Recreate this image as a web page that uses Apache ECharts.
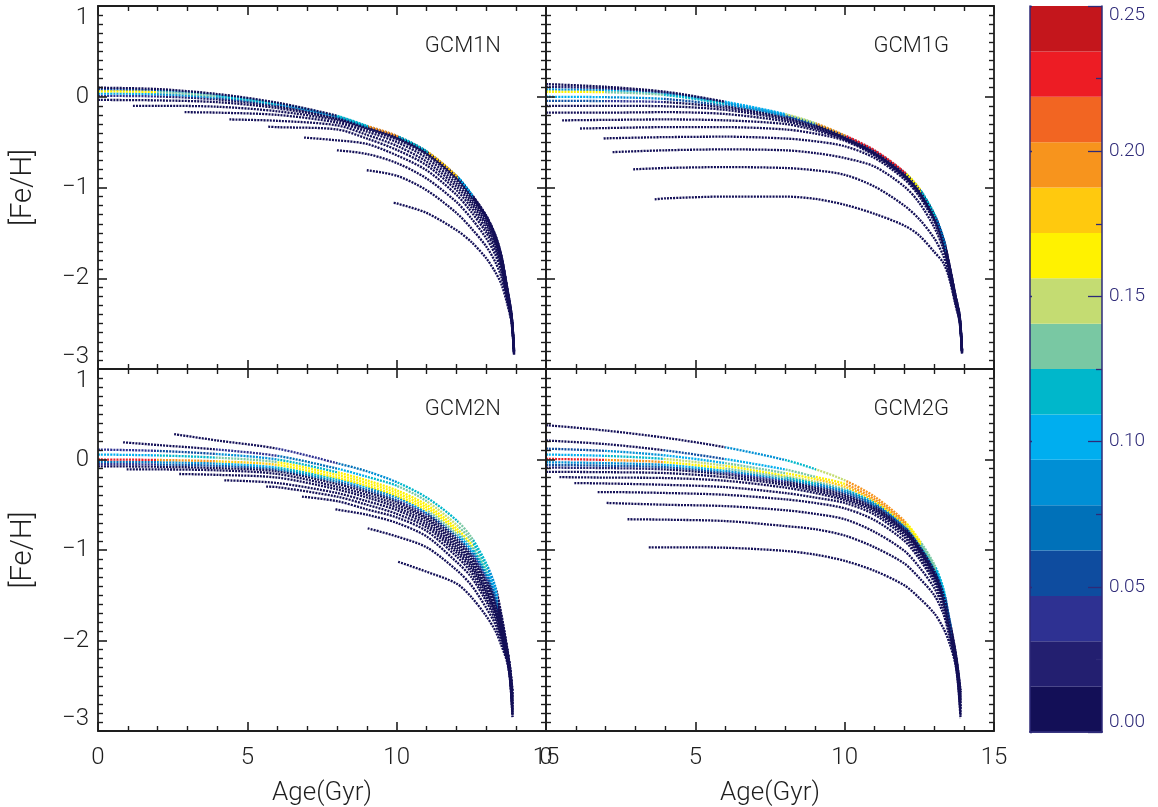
<!DOCTYPE html>
<html><head><meta charset="utf-8">
<script src="https://cdn.jsdelivr.net/npm/echarts@6/dist/echarts.min.js"></script>
<style>html,body{margin:0;padding:0;background:#fff}#c{width:1158px;height:807px}</style>
</head><body><div id="c"></div>
<script>
// ---------------- data ----------------
const PANEL_NAMES = ['GCM1N', 'GCM1G', 'GCM2N', 'GCM2G'];
const X_NAME = 'Age(Gyr)';
const Y_NAME = '[Fe/H]';
const X_MIN = 0, X_MAX = 15, X_STEP = 5;
const Y_MIN = -3, Y_MAX = 1, Y_STEP = 1;
const CB_MIN = 0, CB_MAX = 0.25, CB_STEP = 0.05;
const BAND_COLORS = ['#130F57','#231F70','#2E3192','#0E4C9F','#0071B9','#008FD5','#00AEEF','#00B7CB',
                     '#79C8A3','#C4DC72','#FFF200','#FFC90E','#F7941D','#F26522','#ED1C24','#C4161C'];

// sample ages of each track after its start point
const AGES_1 = [2,4,6,8,9,10,11,12,12.5,13,13.3,13.5,13.7,13.85,13.93];
const AGES_2 = [2,4,6,8,9,10,11,12,12.5,13,13.3,13.5,13.7,13.8,13.88];

// track: [startAge, startFeH, [FeH at following ages], [colour value per point]]
const GCM1N = [
  [0, .10, [.085,.03,-.065,-.21,-.32,-.43,-.6,-.87,-1.07,-1.31,-1.52,-1.74,-2.1,-2.41,-2.79], [0,0,0,0,.12,.2,.11,.18,.1,0]],
  [0, .08, [.068,.018,-.073,-.215,-.324,-.434,-.604,-.874,-1.075,-1.315,-1.525,-1.745,-2.105,-2.415,-2.79], [.05,.07,.09,.1,.08,.06]],
  [0, .06, [.05,.005,-.082,-.22,-.328,-.438,-.608,-.878,-1.08,-1.32,-1.53,-1.75,-2.11,-2.42,-2.795], [.16,.13,.11,.09,.07]],
  [0, .035, [.028,-.012,-.093,-.228,-.333,-.443,-.613,-.883,-1.085,-1.325,-1.535,-1.755,-2.115,-2.42,-2.8], [.1,.08,.06]],
  [0, .01, [.003,-.03,-.105,-.236,-.339,-.448,-.618,-.888,-1.09,-1.33,-1.54,-1.76,-2.12,-2.425,-2.8], [.04,.03]],
  [0, -.035, [-.04,-.06,-.125,-.245,-.345,-.455,-.625,-.895,-1.1,-1.34,-1.55,-1.77,-2.13,-2.43,-2.805]],
  [1.17, -.10, [-.1,-.11,-.16,-.26,-.36,-.47,-.64,-.92,-1.12,-1.36,-1.57,-1.78,-2.14,-2.44,-2.81]],
  [2.9, -.17, [-.175,-.2,-.285,-.385,-.5,-.675,-.955,-1.15,-1.39,-1.59,-1.8,-2.15,-2.44,-2.81]],
  [4.4, -.25, [-.265,-.315,-.42,-.54,-.715,-.99,-1.18,-1.42,-1.62,-1.82,-2.17,-2.45,-2.82]],
  [5.7, -.33, [-.335,-.36,-.46,-.585,-.755,-1.03,-1.22,-1.46,-1.65,-1.85,-2.18,-2.46,-2.82]],
  [6.9, -.45, [-.48,-.52,-.645,-.81,-1.08,-1.27,-1.5,-1.69,-1.88,-2.2,-2.47,-2.83]],
  [8.0, -.59, [-.63,-.73,-.9,-1.16,-1.34,-1.56,-1.74,-1.92,-2.22,-2.48,-2.83]],
  [9.0, -.81, [-.87,-1.03,-1.28,-1.45,-1.65,-1.82,-1.98,-2.25,-2.49,-2.84]],
  [9.9, -1.17, [-1.175,-1.28,-1.47,-1.6,-1.78,-1.93,-2.06,-2.28,-2.5,-2.84]]
];
const GCM1G = [
  [0, .14, [.11,.055,-.055,-.19,-.29,-.425,-.59,-.83,-1.01,-1.29,-1.55,-1.84,-2.17,-2.41,-2.79], [0,0,0,.1,.15,.19,.22,.23,.17,.11,.07,0]],
  [0, .11, [.093,.045,-.062,-.196,-.295,-.43,-.595,-.835,-1.017,-1.297,-1.557,-1.845,-2.175,-2.415,-2.79], [.03,.03,.06,.08,.1,.12,.1,.08,.05,0]],
  [0, .08, [.072,.032,-.07,-.203,-.3,-.435,-.6,-.84,-1.024,-1.304,-1.564,-1.85,-2.18,-2.42,-2.795], [.08,.1,.09,.07,.05]],
  [0, .055, [.05,.018,-.08,-.21,-.306,-.44,-.605,-.845,-1.03,-1.31,-1.57,-1.855,-2.185,-2.425,-2.8], [.17,.14,.11,.08,.06]],
  [0, 0, [-.005,-.025,-.1,-.222,-.315,-.445,-.61,-.85,-1.037,-1.317,-1.577,-1.86,-2.19,-2.43,-2.8], [.1,.08,.06]],
  [0, -.045, [-.048,-.06,-.12,-.235,-.325,-.45,-.615,-.857,-1.044,-1.324,-1.584,-1.865,-2.195,-2.435,-2.805], [.05,.04]],
  [0, -.10, [-.1,-.105,-.145,-.25,-.337,-.457,-.621,-.864,-1.051,-1.331,-1.591,-1.87,-2.2,-2.44,-2.805]],
  [0, -.175, [-.175,-.17,-.19,-.27,-.35,-.464,-.628,-.871,-1.058,-1.338,-1.598,-1.875,-2.205,-2.445,-2.81]],
  [0.54, -.26, [-.255,-.25,-.26,-.3,-.37,-.472,-.636,-.879,-1.066,-1.346,-1.606,-1.88,-2.21,-2.45,-2.81]],
  [1.14, -.35, [-.345,-.335,-.335,-.36,-.405,-.485,-.648,-.889,-1.076,-1.356,-1.616,-1.887,-2.215,-2.455,-2.815]],
  [1.93, -.46, [-.458,-.445,-.44,-.46,-.49,-.545,-.675,-.91,-1.1,-1.38,-1.635,-1.9,-2.225,-2.46,-2.82]],
  [2.23, -.61, [-.59,-.58,-.59,-.62,-.675,-.77,-.99,-1.17,-1.44,-1.675,-1.93,-2.24,-2.47,-2.825]],
  [2.92, -.80, [-.785,-.775,-.785,-.81,-.86,-.99,-1.2,-1.35,-1.56,-1.75,-1.97,-2.26,-2.48,-2.83]],
  [3.64, -1.13, [-1.12,-1.1,-1.1,-1.125,-1.19,-1.29,-1.42,-1.53,-1.71,-1.83,-2.0,-2.28,-2.49,-2.83]]
];
const GCM2N = [
  [2.55, .28, [.21,.12,-.04,-.13,-.25,-.42,-.67,-.86,-1.15,-1.4,-1.7,-2.08,-2.3,-2.55], [0,0,.04,.07,.09,.11,.12,.13,.11,.08,0]],
  [0.84, .19, [.16,.11,.04,-.1,-.19,-.29,-.46,-.72,-.9,-1.19,-1.43,-1.72,-2.09,-2.31,-2.58], [0,0,.04,.07,.1,.12,.14,.15,.14,.12,.09,0]],
  [0, .11, [.095,.06,0,-.14,-.23,-.34,-.5,-.76,-.94,-1.22,-1.46,-1.74,-2.1,-2.32,-2.6], [.04,.06,.08,.12,.16,.17,.17,.17,.16,.13,.1,0]],
  [0, .055, [.045,.02,-.03,-.17,-.26,-.37,-.53,-.79,-.97,-1.25,-1.49,-1.76,-2.11,-2.33,-2.62], [.1,.11,.13,.16,.17,.17,.17,.16,.14,.11,.08,0]],
  [0, 0, [-.005,-.02,-.06,-.2,-.29,-.4,-.56,-.82,-1.0,-1.28,-1.52,-1.78,-2.12,-2.34,-2.64], [.22,.2,.18,.17,.17,.17,.16,.13,.1,.07,.05,0]],
  [0, -.025, [-.03,-.045,-.09,-.22,-.31,-.42,-.59,-.85,-1.03,-1.31,-1.55,-1.8,-2.13,-2.35,-2.66], [.07,.08,.1,.11,.1,.09,.08,.06,.05,.04,0]],
  [0, -.05, [-.055,-.07,-.11,-.245,-.335,-.45,-.61,-.88,-1.06,-1.34,-1.57,-1.82,-2.14,-2.36,-2.68], [.04,.05,.06,.07,.06,.05,.04,0]],
  [0, -.075, [-.08,-.095,-.13,-.27,-.36,-.47,-.64,-.91,-1.09,-1.37,-1.6,-1.84,-2.15,-2.37,-2.7]],
  [0.96, -.11, [-.11,-.12,-.16,-.3,-.39,-.5,-.66,-.94,-1.12,-1.4,-1.62,-1.86,-2.16,-2.38,-2.72]],
  [2.72, -.16, [-.17,-.2,-.33,-.42,-.53,-.69,-.97,-1.15,-1.43,-1.65,-1.88,-2.17,-2.39,-2.74]],
  [4.23, -.23, [-.26,-.37,-.46,-.56,-.72,-1.0,-1.18,-1.46,-1.68,-1.9,-2.18,-2.4,-2.76]],
  [5.63, -.30, [-.305,-.41,-.5,-.6,-.75,-1.03,-1.21,-1.49,-1.7,-1.92,-2.19,-2.41,-2.78]],
  [6.83, -.41, [-.46,-.55,-.64,-.79,-1.07,-1.25,-1.53,-1.73,-1.94,-2.2,-2.42,-2.8]],
  [7.95, -.55, [-.553,-.61,-.7,-.85,-1.13,-1.3,-1.57,-1.77,-1.97,-2.21,-2.43,-2.82]],
  [9.03, -.76, [-.85,-.97,-1.22,-1.39,-1.64,-1.82,-2.0,-2.22,-2.44,-2.84]],
  [10.05, -1.13, [-1.24,-1.37,-1.52,-1.73,-1.89,-2.05,-2.24,-2.45,-2.86]]
];
const GCM2G = [
  [0, .38, [.32,.24,.135,-.005,-.105,-.23,-.41,-.68,-.89,-1.16,-1.42,-1.75,-2.1,-2.33,-2.55], [0,0,0,.08,.11,.15,.19,.2,.17,.14,.11,.07,0]],
  [0, .21, [.17,.1,.005,-.11,-.19,-.27,-.44,-.7,-.91,-1.18,-1.44,-1.76,-2.11,-2.34,-2.57], [0,0,.06,.1,.14,.17,.19,.2,.17,.14,.1,.06,0]],
  [0, .12, [.095,.045,-.04,-.15,-.215,-.3,-.46,-.72,-.93,-1.2,-1.46,-1.77,-2.12,-2.35,-2.59], [.05,.08,.1,.13,.16,.18,.18,.17,.14,.11,.07,0]],
  [0, .055, [.04,.005,-.07,-.18,-.245,-.33,-.48,-.735,-.945,-1.215,-1.47,-1.78,-2.13,-2.36,-2.61], [.1,.12,.15,.16,.15,.13,.11,.09,.07,.05,0]],
  [0, .007, [-.005,-.03,-.1,-.2,-.265,-.35,-.5,-.75,-.96,-1.23,-1.48,-1.79,-2.14,-2.37,-2.63], [.22,.19,.17,.13,.11,.09,.07,.05,0]],
  [0, -.03, [-.04,-.06,-.125,-.22,-.285,-.37,-.515,-.765,-.975,-1.245,-1.5,-1.8,-2.15,-2.38,-2.65], [.08,.09,.1,.08,.07,.06,.05,0]],
  [0, -.06, [-.068,-.085,-.145,-.24,-.305,-.39,-.53,-.78,-.99,-1.26,-1.51,-1.81,-2.15,-2.39,-2.67], [.05,.05,.05,.04,0]],
  [0, -.09, [-.095,-.11,-.165,-.26,-.325,-.41,-.545,-.795,-1.005,-1.275,-1.52,-1.82,-2.16,-2.4,-2.69], [.03,.03]],
  [0, -.136, [-.14,-.15,-.195,-.28,-.345,-.43,-.56,-.81,-1.02,-1.29,-1.54,-1.83,-2.17,-2.41,-2.71]],
  [0.45, -.195, [-.2,-.205,-.235,-.31,-.37,-.45,-.58,-.83,-1.04,-1.31,-1.55,-1.84,-2.18,-2.42,-2.73]],
  [0.95, -.26, [-.265,-.28,-.305,-.37,-.42,-.48,-.61,-.86,-1.07,-1.33,-1.57,-1.86,-2.19,-2.43,-2.75]],
  [1.73, -.36, [-.36,-.37,-.39,-.44,-.48,-.54,-.67,-.9,-1.1,-1.36,-1.6,-1.88,-2.2,-2.44,-2.77]],
  [2.03, -.48, [-.5,-.515,-.56,-.6,-.66,-.8,-1.01,-1.19,-1.42,-1.64,-1.91,-2.21,-2.46,-2.8]],
  [2.73, -.66, [-.665,-.68,-.735,-.77,-.84,-.97,-1.15,-1.31,-1.5,-1.7,-1.95,-2.23,-2.48,-2.83]],
  [3.44, -.97, [-.97,-.975,-1.01,-1.05,-1.12,-1.23,-1.39,-1.53,-1.7,-1.86,-2.02,-2.25,-2.5,-2.86]]
];
const PANEL_TRACKS = [GCM1N, GCM1G, GCM2N, GCM2G];
const PANEL_AGES = [AGES_1, AGES_1, AGES_2, AGES_2];

// ---------------- chart ----------------
const FONT = 'Roboto, "DejaVu Sans", sans-serif';
const AX = '#1e1e1e';
const CBC = '#2E2A78';
function colorFor(c) {
  const n = BAND_COLORS.length;
  const i = Math.min(n - 1, Math.max(0, Math.floor((c - CB_MIN) / (CB_MAX - CB_MIN) * n)));
  return BAND_COLORS[i];
}
function buildTrack(ages, t) {
  const a0 = t[0], f0 = t[1], fs = t[2], cs = t[3] || [];
  const pts = [[a0, f0]];
  ages.filter(a => a > a0).forEach((a, i) => { if (fs[i] !== undefined) pts.push([a, fs[i]]); });
  return { pts, cs };
}
function lineColor(pts, cs) {
  if (!cs.some(c => c > 0)) return colorFor(0);
  const a0 = pts[0][0], a1 = pts[pts.length - 1][0];
  const stops = [];
  for (let i = 0; i < pts.length - 1; i++) {
    const col = colorFor(cs[i] || 0);
    stops.push({ offset: (pts[i][0] - a0) / (a1 - a0), color: col });
    stops.push({ offset: (pts[i + 1][0] - a0) / (a1 - a0), color: col });
  }
  return new echarts.graphic.LinearGradient(0, 0, 1, 0, stops);
}
const minus = v => (v < 0 ? '\u2212' + Math.abs(v) : String(v));

const grids = [
  { left: 98, top: 6, width: 448, height: 363 },
  { left: 546, top: 6, width: 448, height: 363 },
  { left: 98, top: 369, width: 448, height: 363 },
  { left: 546, top: 369, width: 448, height: 363 },
  { left: 1030, top: 6, width: 72, height: 726 }
];
const xAxes = [], yAxes = [], series = [], graphics = [];
const lbl = { fontFamily: FONT, fontWeight: 300, color: '#1e1e1e' };
const tickStyle = { show: true, inside: true, length: 9, lineStyle: { color: AX, width: 1.6 } };
const minorStyle = n => ({ show: true, splitNumber: n, length: 5, lineStyle: { color: AX, width: 1.4 } });

for (let p = 0; p < 4; p++) {
  const bottomRow = p >= 2, leftCol = p % 2 === 0;
  ['bottom', 'top'].forEach(pos => {
    xAxes.push({
      type: 'value', gridIndex: p, position: pos, min: X_MIN, max: X_MAX, interval: X_STEP, z: 10,
      axisLine: { show: true, onZero: false, lineStyle: { color: AX, width: 1.8 } },
      axisTick: tickStyle, minorTick: minorStyle(5),
      splitLine: { show: false }, minorSplitLine: { show: false },
      axisLabel: Object.assign({ show: pos === 'bottom' && bottomRow, fontSize: 24, margin: 15, showMinLabel: true, showMaxLabel: true, hideOverlap: false }, lbl),
      name: pos === 'bottom' && bottomRow ? X_NAME : '', nameLocation: 'middle', nameGap: 49,
      nameTextStyle: Object.assign({ fontSize: 26 }, lbl)
    });
  });
  ['left', 'right'].forEach(pos => {
    yAxes.push({
      type: 'value', gridIndex: p, position: pos, min: Y_MIN, max: Y_MAX, interval: Y_STEP, z: 10,
      axisLine: { show: true, onZero: false, lineStyle: { color: AX, width: 1.8 } },
      axisTick: tickStyle, minorTick: minorStyle(10),
      splitLine: { show: false }, minorSplitLine: { show: false },
      axisLabel: Object.assign({ show: pos === 'left' && leftCol, fontSize: 24, margin: 9, formatter: minus,
        verticalAlignMinLabel: 'bottom', verticalAlignMaxLabel: 'top' }, lbl),
      name: pos === 'left' && leftCol ? Y_NAME : '', nameLocation: 'middle', nameGap: 60, nameRotate: 90,
      nameTextStyle: Object.assign({ fontSize: 29 }, lbl)
    });
  });
  const built = PANEL_TRACKS[p].map(t => buildTrack(PANEL_AGES[p], t));
  built.sort((a, b) => Math.max(0, ...a.cs) - Math.max(0, ...b.cs));
  built.forEach(tr => {
    series.push({
      type: 'line', xAxisIndex: 2 * p, yAxisIndex: 2 * p, data: tr.pts,
      showSymbol: false, symbol: 'none', smooth: 0.3, silent: true, animation: false,
      lineStyle: { width: 2.3, type: [2, 1.1], cap: 'butt', color: lineColor(tr.pts, tr.cs) }
    });
  });
  const g = grids[p];
  graphics.push({
    type: 'text', x: g.left + g.width - 45, y: g.top + 40, silent: true, z: 20,
    style: { text: PANEL_NAMES[p], align: 'right', verticalAlign: 'middle', fontSize: 22, fontFamily: FONT, fontWeight: 300, fill: '#1e1e1e' }
  });
}

// colour bar
xAxes.push({ type: 'category', gridIndex: 4, position: 'bottom', data: [''], z: 10,
  axisLine: { show: true, lineStyle: { color: CBC, width: 1.5 } }, axisTick: { show: false }, axisLabel: { show: false } });
xAxes.push({ type: 'category', gridIndex: 4, position: 'top', data: [''], z: 10,
  axisLine: { show: true, lineStyle: { color: CBC, width: 1.5 } }, axisTick: { show: false }, axisLabel: { show: false } });
['left', 'right'].forEach(pos => {
  yAxes.push({
    type: 'value', gridIndex: 4, position: pos, min: CB_MIN, max: CB_MAX, interval: CB_STEP, z: 10,
    axisLine: { show: true, lineStyle: { color: CBC, width: 1.5 } },
    axisTick: { show: true, inside: true, length: pos === 'right' ? 14 : 2, lineStyle: { color: CBC, width: 1.3 } },
    minorTick: { show: pos === 'right', splitNumber: 2, length: 6, lineStyle: { color: CBC, width: 1.3 } },
    splitLine: { show: false },
    axisLabel: { show: pos === 'right', fontSize: 19, margin: 7, color: CBC, fontFamily: FONT, fontWeight: 300,
      formatter: v => v.toFixed(2), verticalAlignMinLabel: 'bottom', verticalAlignMaxLabel: 'top' }
  });
});
const bandSize = (CB_MAX - CB_MIN) / BAND_COLORS.length;
BAND_COLORS.forEach(col => {
  series.push({ type: 'bar', xAxisIndex: 8, yAxisIndex: 8, stack: 'cb', barWidth: '100%', silent: true, animation: false,
    data: [bandSize], itemStyle: { color: col } });
});

const chart = echarts.init(document.getElementById('c'), null, { renderer: 'canvas' });
chart.setOption({
  backgroundColor: '#fff', animation: false,
  grid: grids, xAxis: xAxes, yAxis: yAxes, series: series, graphic: graphics
});
</script></body></html>
